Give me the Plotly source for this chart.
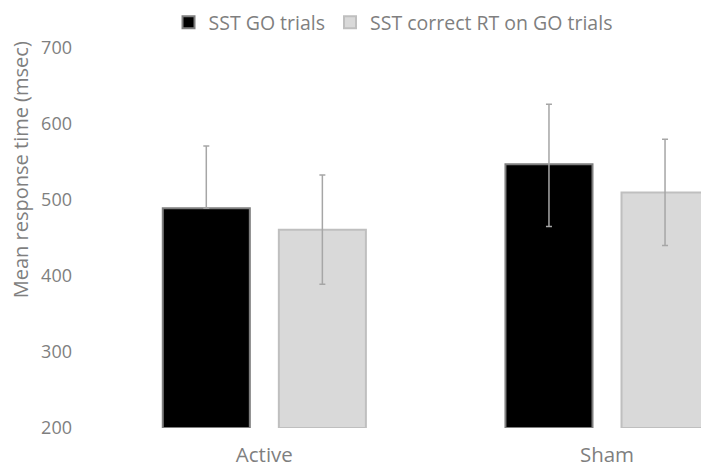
import plotly.graph_objects as go

categories = ["Active", "Sham"]
series_names = ["SST GO trials", "SST correct RT on GO trials"]
go_trials = [489, 547]
go_err_plus = [82, 79]
go_err_minus = [0, 82]
correct_rt = [461, 510]
correct_err = [72, 70]
y_ticks = [200, 300, 400, 500, 600, 700]
y_title = "Mean response time (msec)"

fig = go.Figure()
fig.add_trace(go.Bar(
    x=categories, y=[v - 200 for v in go_trials], base=200, name=series_names[0],
    marker=dict(color="#000000", line=dict(color="#7f7f7f", width=2)),
    error_y=dict(type="data", symmetric=False, array=go_err_plus, arrayminus=go_err_minus,
                 color="#a6a6a6", thickness=1.5, width=3),
))
fig.add_trace(go.Bar(
    x=categories, y=[v - 200 for v in correct_rt], base=200, name=series_names[1],
    marker=dict(color="#d9d9d9", line=dict(color="#bfbfbf", width=2)),
    error_y=dict(type="data", array=correct_err, color="#a6a6a6", thickness=1.5, width=3),
))

font_color = "#7f7f7f"
fig.update_layout(
    width=709, height=468,
    margin=dict(l=85, r=0, t=40, b=48, autoexpand=False),
    paper_bgcolor="white", plot_bgcolor="white",
    font=dict(family="Open Sans", size=18, color=font_color),
    barmode="group", bargap=0.3226, bargroupgap=0.25,
    showlegend=True,
    legend=dict(orientation="h", xref="container", yref="container", x=0.2264, y=0.969,
                xanchor="left", yanchor="middle", font=dict(size=19.5, color=font_color),
                itemwidth=30, traceorder="normal"),
    xaxis=dict(range=[-0.5, 1.321], showline=False, ticks="", showgrid=False,
               automargin=False, ticklabelstandoff=12,
               tickfont=dict(size=20.5, color=font_color)),
    yaxis=dict(range=[200, 700], tickvals=y_ticks, showgrid=False, showline=False,
               zeroline=False, ticks="", ticklabelstandoff=20, automargin=False,
               tickfont=dict(size=18, color=font_color)),
    annotations=[dict(text=y_title, textangle=-90, xref="paper", yref="paper",
                      x=-0.116, y=0.68, xanchor="center", yanchor="middle",
                      showarrow=False, font=dict(size=20, color=font_color))],
)

fig.write_html("out.html")
